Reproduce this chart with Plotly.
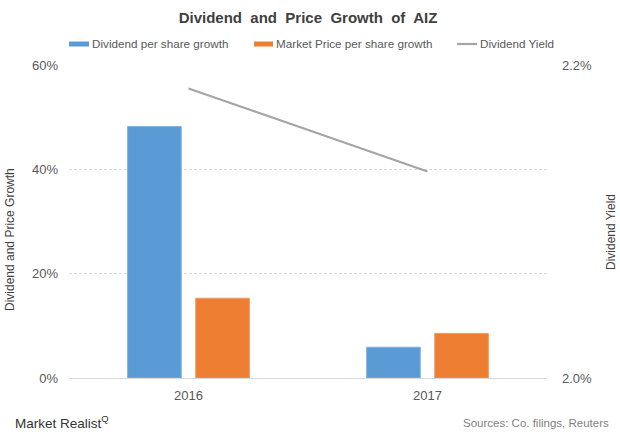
import plotly.graph_objects as go

years = ["2016", "2017"]
dividend_growth = [48.2, 5.9]
price_growth = [15.3, 8.55]
dividend_yield = [2.185, 2.132]

left_ticks = [0, 20, 40, 60]
left_tick_text = ["0%", "20%", "40%", "60%"]
right_ticks = [2.0, 2.2]
right_tick_text = ["2.0%", "2.2%"]

series_names = ["Dividend per share growth", "Market Price per share growth", "Dividend Yield"]
series_colors = ["#5B9BD5", "#ED7D31", "#A5A5A5"]

font_family = "Liberation Sans, Arial, sans-serif"

# plot-area geometry (pixels) used to convert layout positions to paper coords
L, R, T, B = 69, 73, 65, 61
W, H = 620, 439
PW, PH = W - L - R, H - T - B


def px(x):
    return (x - L) / PW


def py(y):
    return 1 - (y - T) / PH


fig = go.Figure()
fig.add_trace(go.Bar(
    x=years, y=dividend_growth, name=series_names[0], showlegend=False,
    marker=dict(color=series_colors[0], line=dict(color="#7FB2E0", width=1)),
))
fig.add_trace(go.Bar(
    x=years, y=price_growth, name=series_names[1], showlegend=False,
    marker=dict(color=series_colors[1], line=dict(color="#F29A5E", width=1)),
))
fig.add_trace(go.Scatter(
    x=years, y=dividend_yield, name=series_names[2], mode="lines", showlegend=False,
    line=dict(color=series_colors[2], width=2.2), yaxis="y2",
))

fig.update_layout(
    width=W, height=H,
    margin=dict(l=L, r=R, t=T, b=B, autoexpand=False),
    paper_bgcolor="white", plot_bgcolor="white",
    font=dict(family=font_family, color="#595959", size=12),
    title=dict(text="<b>Dividend  and  Price  Growth  of  AIZ</b>",
               x=0.5, xanchor="center", xref="paper",
               y=1 - 17.5 / H, yanchor="middle",
               font=dict(size=15, color="#404040", family=font_family)),
    barmode="group", bargap=0.43, bargroupgap=0.213,
    showlegend=False,
    xaxis=dict(showgrid=False, showline=True, linecolor="#D9D9D9", linewidth=1,
               ticks="", automargin=False, ticklabelstandoff=5,
               tickfont=dict(size=13, color="#595959")),
    yaxis=dict(range=[0, 60], tickvals=left_ticks, ticktext=left_tick_text,
               showgrid=True, gridcolor="#D9D9D9", griddash="3px,2px", gridwidth=1,
               zeroline=False, showline=False, ticks="", automargin=False,
               ticklabelstandoff=10,
               tickfont=dict(size=13, color="#595959")),
    yaxis2=dict(range=[2.0, 2.2], tickvals=right_ticks, ticktext=right_tick_text,
                overlaying="y", side="right", showgrid=False, zeroline=False,
                showline=False, ticks="", automargin=False,
                ticklabelstandoff=14,
                tickfont=dict(size=13, color="#595959")),
)

# custom legend (wide swatches as in the reference)
legend_items = [
    (69, 89, 90, "bar"),
    (254, 273, 274, "bar"),
    (457, 477, 478, "line"),
]
for (x0, x1, tx, kind), name, color in zip(legend_items, series_names, series_colors):
    if kind == "bar":
        fig.add_shape(type="rect", xref="paper", yref="paper",
                      x0=px(x0), x1=px(x1), y0=py(46.5), y1=py(41.5),
                      fillcolor=color, line=dict(width=0))
    else:
        fig.add_shape(type="line", xref="paper", yref="paper",
                      x0=px(x0), x1=px(x1), y0=py(44), y1=py(44),
                      line=dict(color=color, width=2.2))
    fig.add_annotation(text=name, xref="paper", yref="paper",
                       x=px(tx), y=py(43.5), xanchor="left", yanchor="middle",
                       showarrow=False, font=dict(size=11.7, color="#595959"))

fig.add_annotation(text="Dividend and Price Growth", xref="paper", yref="paper",
                   x=px(10), y=py(240), textangle=-90,
                   xanchor="center", yanchor="middle", showarrow=False,
                   font=dict(size=12, color="#404040", family=font_family))
fig.add_annotation(text="Dividend Yield", xref="paper", yref="paper",
                   x=px(611), y=py(232), textangle=-90,
                   xanchor="center", yanchor="middle", showarrow=False,
                   font=dict(size=12, color="#404040", family=font_family))
fig.add_annotation(text="Market Realist<sup>Q</sup>", xref="paper", yref="paper",
                   x=px(13), y=py(422), xanchor="left",
                   yanchor="middle", showarrow=False,
                   font=dict(size=13.5, color="#333333", family=font_family))
fig.add_annotation(text="Sources: Co. filings, Reuters", xref="paper", yref="paper",
                   x=px(611), y=py(423), xanchor="right",
                   yanchor="middle", showarrow=False,
                   font=dict(size=11.5, color="#7F7F7F", family=font_family))

fig.write_html("out.html", config={"displayModeBar": False},
               post_script="document.body.style.margin='0';document.body.style.padding='0';")
